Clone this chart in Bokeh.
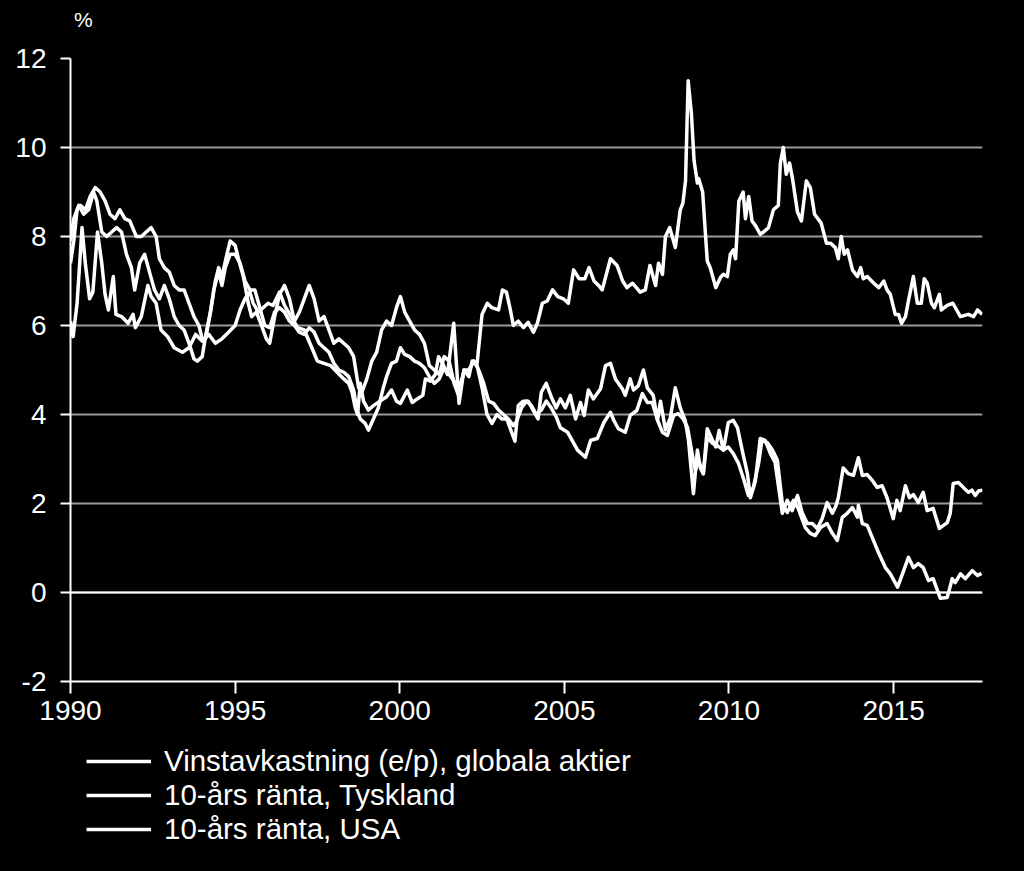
from bokeh.plotting import figure
from bokeh.layouts import column
from bokeh.models import FixedTicker, Span, Legend, LegendItem, Div
from bokeh.embed import file_html
from bokeh.resources import INLINE

# Earnings yield (e/p), global equities
ep_t = [1990.0, 1990.08, 1990.2, 1990.35, 1990.45, 1990.58, 1990.68, 1990.82, 1990.95, 1991.05,
        1991.15, 1991.3, 1991.38, 1991.55, 1991.75, 1991.9, 1991.97, 1992.15, 1992.35, 1992.45,
        1992.6, 1992.75, 1992.95, 1993.15, 1993.4, 1993.6, 1993.8, 1994.0, 1994.2, 1994.4,
        1994.6, 1994.8, 1995.0, 1995.15, 1995.3, 1995.45, 1995.55, 1995.7, 1995.85, 1996.0,
        1996.15, 1996.35, 1996.5, 1996.7, 1996.9, 1997.1, 1997.3, 1997.5, 1997.7, 1997.9,
        1998.1, 1998.3, 1998.45, 1998.55, 1998.65, 1998.72, 1998.8, 1998.9, 1999.05, 1999.2,
        1999.4, 1999.6, 1999.75, 1999.9, 2000.02, 2000.23, 2000.38, 2000.53, 2000.7, 2000.78,
        2000.93, 2001.08, 2001.18, 2001.3, 2001.45, 2001.64, 2001.8, 2001.95, 2002.1, 2002.2,
        2002.35, 2002.5, 2002.66, 2002.8, 2003.0, 2003.12, 2003.24, 2003.36, 2003.45, 2003.6,
        2003.76, 2003.9, 2004.06, 2004.18, 2004.33, 2004.48, 2004.64, 2004.8, 2004.97, 2005.12,
        2005.28, 2005.45, 2005.62, 2005.75, 2005.9, 2006.04, 2006.15, 2006.4, 2006.6, 2006.77,
        2006.9, 2007.07, 2007.3, 2007.46, 2007.6, 2007.77, 2007.86, 2007.98, 2008.07, 2008.2,
        2008.37, 2008.52, 2008.6, 2008.68, 2008.76, 2008.86, 2008.94, 2009.04, 2009.08, 2009.2,
        2009.34, 2009.43, 2009.6, 2009.74, 2009.83, 2009.95, 2010.04, 2010.13, 2010.2, 2010.3,
        2010.43, 2010.5, 2010.6, 2010.7, 2010.8, 2010.95, 2011.05, 2011.2, 2011.35, 2011.5,
        2011.56, 2011.65, 2011.74, 2011.84, 2011.93, 2012.08, 2012.2, 2012.35, 2012.47, 2012.6,
        2012.7, 2012.8, 2012.96, 2013.08, 2013.23, 2013.32, 2013.41, 2013.5, 2013.6, 2013.75,
        2013.9, 2014.0, 2014.08, 2014.2, 2014.4, 2014.55, 2014.7, 2014.8, 2014.9, 2015.05,
        2015.15, 2015.24, 2015.36, 2015.45, 2015.6, 2015.72, 2015.84, 2015.93, 2016.02, 2016.15,
        2016.24, 2016.39, 2016.45, 2016.63, 2016.8, 2017.03, 2017.27, 2017.43, 2017.55, 2017.69]
ep_v = [6.1, 5.75, 6.5, 8.2, 7.4, 6.6, 6.75, 8.1, 7.4, 6.7,
        6.35, 7.1, 6.25, 6.2, 6.05, 6.25, 5.95, 6.2, 6.9, 6.65,
        6.5, 5.9, 5.75, 5.5, 5.4, 5.5, 5.8, 5.65, 5.8, 5.6,
        5.7, 5.85, 6.0, 6.35, 6.6, 6.75, 6.5, 6.3, 6.4, 6.5,
        6.45, 6.75, 6.45, 6.2, 5.95, 5.9, 5.55, 5.2, 5.15, 5.1,
        4.95, 4.8, 4.7, 4.5, 4.15, 4.0, 4.7, 4.3, 4.1, 4.2,
        4.3, 4.4, 4.55, 4.3, 4.25, 4.55, 4.27, 4.35, 4.43, 4.8,
        4.75, 4.9, 5.3, 5.15, 4.9, 6.05, 4.25, 5.0, 4.85, 5.2,
        5.15, 6.25, 6.5, 6.4, 6.35, 6.8, 6.75, 6.35, 6.0, 6.1,
        5.95, 6.07, 5.85, 6.05, 6.5, 6.55, 6.8, 6.65, 6.6, 6.5,
        7.25, 7.05, 7.05, 7.3, 7.0, 6.9, 6.8, 7.5, 7.35, 7.0,
        6.85, 6.95, 6.75, 6.8, 7.35, 6.9, 7.4, 7.15, 8.0, 8.2,
        7.75, 8.6, 8.75, 9.25, 11.5, 10.75, 9.7, 9.2, 9.3, 9.0,
        7.45, 7.3, 6.85, 7.08, 7.15, 7.1, 7.6, 7.7, 7.5, 8.8,
        9.0, 8.4, 8.9, 8.35, 8.25, 8.05, 8.1, 8.2, 8.6, 8.7,
        9.65, 10.0, 9.4, 9.65, 9.3, 8.55, 8.35, 9.25, 9.1, 8.5,
        8.4, 8.3, 7.85, 7.85, 7.75, 7.5, 8.0, 7.6, 7.7, 7.25,
        7.1, 7.3, 7.05, 7.1, 6.95, 6.85, 7.0, 6.8, 6.7, 6.25,
        6.25, 6.05, 6.2, 6.55, 7.1, 6.5, 6.5, 7.05, 6.95, 6.5,
        6.4, 6.7, 6.35, 6.45, 6.5, 6.2, 6.25, 6.2, 6.35, 6.25]

# 10-year yield, Germany
de_t = [1990.0, 1990.1, 1990.2, 1990.3, 1990.45, 1990.6, 1990.75, 1990.9, 1991.05, 1991.2,
        1991.35, 1991.5, 1991.65, 1991.8, 1992.0, 1992.15, 1992.3, 1992.45, 1992.6, 1992.7,
        1992.85, 1993.0, 1993.15, 1993.3, 1993.45, 1993.6, 1993.75, 1993.9, 1994.0, 1994.1,
        1994.25, 1994.35, 1994.5, 1994.6, 1994.7, 1994.85, 1995.0, 1995.15, 1995.3, 1995.45,
        1995.6, 1995.75, 1995.9, 1996.05, 1996.2, 1996.35, 1996.5, 1996.65, 1996.8, 1996.95,
        1997.1, 1997.25, 1997.4, 1997.55, 1997.7, 1997.85, 1998.0, 1998.15, 1998.3, 1998.45,
        1998.6, 1998.7, 1998.8, 1998.95, 1999.05, 1999.2, 1999.35, 1999.5, 1999.6, 1999.75,
        1999.9, 2000.02, 2000.15, 2000.3, 2000.45, 2000.6, 2000.75, 2000.9, 2001.05, 2001.2,
        2001.35, 2001.5, 2001.65, 2001.8, 2001.95, 2002.1, 2002.25, 2002.4, 2002.55, 2002.7,
        2002.85, 2003.0, 2003.15, 2003.3, 2003.45, 2003.55, 2003.7, 2003.85, 2004.0, 2004.15,
        2004.3, 2004.45, 2004.6, 2004.75, 2004.88, 2005.1, 2005.4, 2005.64, 2005.8, 2006.0,
        2006.2, 2006.4, 2006.5, 2006.64, 2006.85, 2007.0, 2007.2, 2007.37, 2007.52, 2007.67,
        2007.83, 2007.98, 2008.13, 2008.32, 2008.46, 2008.6, 2008.74, 2008.9, 2008.98, 2009.07,
        2009.22, 2009.34, 2009.5, 2009.65, 2009.83, 2009.98, 2010.13, 2010.29, 2010.44, 2010.59,
        2010.74, 2010.9, 2011.0, 2011.16, 2011.32, 2011.47, 2011.62, 2011.77, 2011.96, 2012.1,
        2012.32, 2012.47, 2012.62, 2012.78, 2012.98, 2013.14, 2013.29, 2013.44, 2013.59, 2013.75,
        2013.9, 2013.93, 2014.05, 2014.2, 2014.35, 2014.55, 2014.75, 2014.9, 2015.12, 2015.27,
        2015.45, 2015.6, 2015.75, 2015.9, 2016.06, 2016.2, 2016.42, 2016.63, 2016.78, 2016.87,
        2017.03, 2017.18, 2017.39, 2017.55, 2017.67]
de_v = [7.4, 7.9, 8.6, 8.7, 8.6, 8.9, 9.1, 9.0, 8.8, 8.5,
        8.4, 8.6, 8.4, 8.35, 8.0, 8.0, 8.1, 8.2, 8.0, 7.5,
        7.3, 7.2, 6.9, 6.8, 6.8, 6.5, 6.2, 6.0, 5.7, 5.7,
        6.3, 6.8, 7.2, 6.9, 7.3, 7.6, 7.6, 7.4, 7.0, 6.8,
        6.8, 6.4, 6.0, 5.95, 6.3, 6.4, 6.3, 6.1, 6.0, 5.85,
        5.8, 5.95, 5.85, 5.6, 5.5, 5.4, 5.15, 5.0, 4.95, 4.85,
        4.55, 4.1, 3.9, 3.8, 3.65, 3.9, 4.15, 4.6, 4.85, 5.15,
        5.2, 5.5, 5.35, 5.3, 5.2, 5.15, 5.05, 4.85, 4.7, 4.8,
        5.05, 4.9, 4.75, 4.6, 4.95, 5.0, 5.2, 5.0, 4.7, 4.3,
        4.25, 4.1, 4.0, 3.9, 3.75, 3.85, 4.15, 4.3, 4.2, 4.0,
        4.1, 4.3, 4.15, 3.95, 3.7, 3.6, 3.2, 3.04, 3.42, 3.46,
        3.82, 4.05, 3.87, 3.68, 3.6, 3.98, 4.09, 4.47, 4.27, 4.27,
        3.87, 3.6, 3.53, 3.98, 4.02, 3.91, 3.71, 3.04, 2.74, 2.97,
        2.67, 3.48, 3.35, 3.3, 3.2, 3.27, 3.12, 2.9, 2.56, 2.18,
        2.36, 2.9, 3.42, 3.37, 3.2, 2.97, 2.0, 1.8, 2.07, 1.89,
        1.46, 1.33, 1.28, 1.46, 1.55, 1.33, 1.17, 1.69, 1.78, 1.91,
        1.69, 1.96, 1.55, 1.51, 1.24, 0.88, 0.56, 0.42, 0.12, 0.42,
        0.79, 0.56, 0.65, 0.56, 0.27, 0.31, -0.13, -0.11, 0.31, 0.22,
        0.42, 0.31, 0.49, 0.38, 0.43]

# 10-year yield, USA
us_t = [1990.0, 1990.1, 1990.25, 1990.4, 1990.55, 1990.7, 1990.8, 1990.95, 1991.1, 1991.25,
        1991.4, 1991.55, 1991.7, 1991.85, 1991.95, 1992.1, 1992.25, 1992.4, 1992.55, 1992.7,
        1992.85, 1993.0, 1993.15, 1993.3, 1993.45, 1993.6, 1993.75, 1993.85, 1994.0, 1994.1,
        1994.25, 1994.4, 1994.5, 1994.6, 1994.75, 1994.85, 1995.0, 1995.1, 1995.25, 1995.4,
        1995.5, 1995.65, 1995.8, 1995.95, 1996.05, 1996.2, 1996.35, 1996.5, 1996.65, 1996.8,
        1996.95, 1997.1, 1997.25, 1997.4, 1997.55, 1997.7, 1997.85, 1998.0, 1998.15, 1998.3,
        1998.45, 1998.6, 1998.75, 1998.85, 1999.0, 1999.15, 1999.3, 1999.45, 1999.6, 1999.75,
        1999.9, 2000.02, 2000.15, 2000.3, 2000.45, 2000.6, 2000.75, 2000.9, 2001.05, 2001.2,
        2001.35, 2001.5, 2001.65, 2001.8, 2001.95, 2002.1, 2002.25, 2002.35, 2002.5, 2002.65,
        2002.8, 2002.95, 2003.1, 2003.25, 2003.4, 2003.5, 2003.6, 2003.75, 2003.9, 2004.05,
        2004.2, 2004.3, 2004.45, 2004.6, 2004.75, 2004.88, 2005.03, 2005.18, 2005.34, 2005.49,
        2005.6, 2005.73, 2005.88, 2006.1, 2006.25, 2006.4, 2006.55, 2006.76, 2006.85, 2007.0,
        2007.1, 2007.25, 2007.4, 2007.52, 2007.7, 2007.83, 2007.92, 2008.07, 2008.22, 2008.37,
        2008.52, 2008.67, 2008.77, 2008.92, 2009.04, 2009.13, 2009.22, 2009.34, 2009.5, 2009.6,
        2009.7, 2009.83, 2009.98, 2010.13, 2010.26, 2010.4, 2010.56, 2010.65, 2010.8, 2010.95,
        2011.1, 2011.26, 2011.4, 2011.62, 2011.77, 2011.92, 2012.08, 2012.22, 2012.38, 2012.53,
        2012.68, 2012.83, 2012.98, 2013.14, 2013.25, 2013.32, 2013.47, 2013.62, 2013.78, 2013.93,
        2014.05, 2014.2, 2014.35, 2014.5, 2014.65, 2014.8, 2014.99, 2015.1, 2015.2, 2015.36,
        2015.48, 2015.6, 2015.75, 2015.9, 2016.02, 2016.2, 2016.39, 2016.63, 2016.72, 2016.81,
        2016.97, 2017.12, 2017.27, 2017.38, 2017.48, 2017.58, 2017.7]
us_v = [7.9, 8.4, 8.7, 8.5, 8.6, 9.0, 8.8, 8.1, 8.0, 8.1,
        8.2, 8.1, 7.6, 7.3, 6.8, 7.4, 7.6, 7.2, 6.8, 6.6,
        6.9, 6.6, 6.2, 6.0, 5.9, 5.6, 5.25, 5.2, 5.3, 5.75,
        6.3, 7.0, 7.3, 7.1, 7.6, 7.9, 7.8, 7.5, 7.1, 6.5,
        6.2, 6.3, 6.0, 5.7, 5.6, 6.2, 6.7, 6.9, 6.6, 6.1,
        6.3, 6.6, 6.9, 6.6, 6.1, 6.2, 5.9, 5.6, 5.7, 5.6,
        5.5, 5.3, 4.6, 4.5, 4.8, 5.2, 5.4, 5.9, 6.1, 6.0,
        6.4, 6.65, 6.3, 6.1, 5.9, 5.8, 5.6, 5.1, 5.0, 4.9,
        5.3, 5.2, 4.7, 4.4, 5.0, 5.0, 5.2, 5.1, 4.6, 4.0,
        3.8, 4.0, 3.9, 3.9, 3.6, 3.4, 4.2, 4.3, 4.3, 4.1,
        3.9, 4.5, 4.7, 4.4, 4.15, 4.35, 4.15, 4.43, 3.9, 4.27,
        3.98, 4.55, 4.35, 4.58, 5.1, 5.15, 4.8, 4.58, 4.43, 4.8,
        4.55, 4.65, 5.0, 4.6, 4.43, 3.87, 4.3, 3.65, 3.93, 4.6,
        4.15, 3.87, 3.42, 2.22, 3.2, 2.8, 2.67, 3.68, 3.42, 3.27,
        3.64, 3.2, 3.82, 3.87, 3.7, 3.2, 2.67, 2.13, 2.5, 3.46,
        3.42, 3.12, 2.92, 1.78, 2.07, 1.84, 2.18, 1.8, 1.55, 1.55,
        1.44, 1.66, 2.02, 1.78, 1.95, 2.13, 2.8, 2.67, 2.63, 3.03,
        2.63, 2.65, 2.52, 2.36, 2.4, 2.13, 1.66, 2.07, 1.84, 2.4,
        2.13, 2.2, 2.02, 2.25, 1.84, 1.89, 1.44, 1.57, 1.78, 2.45,
        2.47, 2.36, 2.25, 2.3, 2.18, 2.28, 2.3]

x_ticks = [1990, 1995, 2000, 2005, 2010, 2015]
y_ticks = [-2, 0, 2, 4, 6, 8, 10, 12]
unit_label = "%"
labels = ["Vinstavkastning (e/p), globala aktier",
          "10-års ränta, Tyskland",
          "10-års ränta, USA"]

FONT = "Liberation Sans"

# unit label above the y axis
head = Div(text=unit_label, width=1024, height=30, margin=0,
           styles={"color": "white", "background-color": "black",
                   "font-family": FONT, "font-size": "21px",
                   "line-height": "21px", "padding-left": "74px",
                   "padding-top": "9px", "box-sizing": "border-box"})

p = figure(frame_width=912, frame_height=623, output_backend="svg", toolbar_location=None,
           x_range=(1990, 2017.7), y_range=(-2, 12), title=None,
           min_border_left=70, min_border_right=42, min_border_top=28,
           min_border_bottom=56)

p.background_fill_color = "black"
p.border_fill_color = "black"
p.outline_line_color = None

p.xgrid.visible = False
p.ygrid.ticker = FixedTicker(ticks=y_ticks)
p.ygrid.grid_line_color = "#9a9a9a"
p.ygrid.grid_line_width = 2

for ax in (p.xaxis[0], p.yaxis[0]):
    ax.axis_line_color = "white"
    ax.axis_line_width = 2
    ax.major_tick_line_color = "white"
    ax.major_tick_line_width = 2
    ax.minor_tick_line_color = None
    ax.major_tick_in = 0
    ax.major_label_text_color = "white"
    ax.major_label_text_font = FONT
    ax.major_label_text_font_size = "28px"

p.xaxis.ticker = FixedTicker(ticks=x_ticks)
p.xaxis.major_tick_out = 12
p.xaxis.major_label_standoff = 7
p.yaxis.ticker = FixedTicker(ticks=y_ticks)
p.yaxis.major_tick_out = 10
p.yaxis.major_label_standoff = 14
p.yaxis.major_label_overrides = {t: str(t) for t in y_ticks}

p.add_layout(Span(location=0, dimension="width", line_color="white", line_width=2))

line_style = dict(line_color="white", line_width=3.5, line_join="round")
p.line(ep_t, ep_v, **line_style)
p.line(de_t, de_v, **line_style)
p.line(us_t, us_v, **line_style)

# legend panel under the chart (its own ranges keep the series out of view)
lg = figure(width=1024, height=134, output_backend="svg", toolbar_location=None,
            x_range=(0, 1), y_range=(0, 1), min_border=0)
lg.background_fill_color = "black"
lg.border_fill_color = "black"
lg.outline_line_color = None
lg.axis.visible = False
lg.grid.visible = False
k1 = lg.line(ep_t, ep_v, **line_style)
k2 = lg.line(de_t, de_v, **line_style)
k3 = lg.line(us_t, us_v, **line_style)

legend = Legend(items=[LegendItem(label=labels[0], renderers=[k1]),
                       LegendItem(label=labels[1], renderers=[k2]),
                       LegendItem(label=labels[2], renderers=[k3])],
                location=(16, 25), orientation="vertical",
                label_text_color="white", label_text_font=FONT,
                label_text_font_size="29.5px", glyph_width=65, glyph_height=30,
                label_height=30, spacing=0, padding=0, margin=0,
                label_standoff=13, border_line_color=None,
                background_fill_alpha=0)
lg.add_layout(legend)

layout = column(head, p, lg, spacing=0)
layout.styles = {"background-color": "black"}

open("out.html", "w").write(file_html(layout, INLINE))
